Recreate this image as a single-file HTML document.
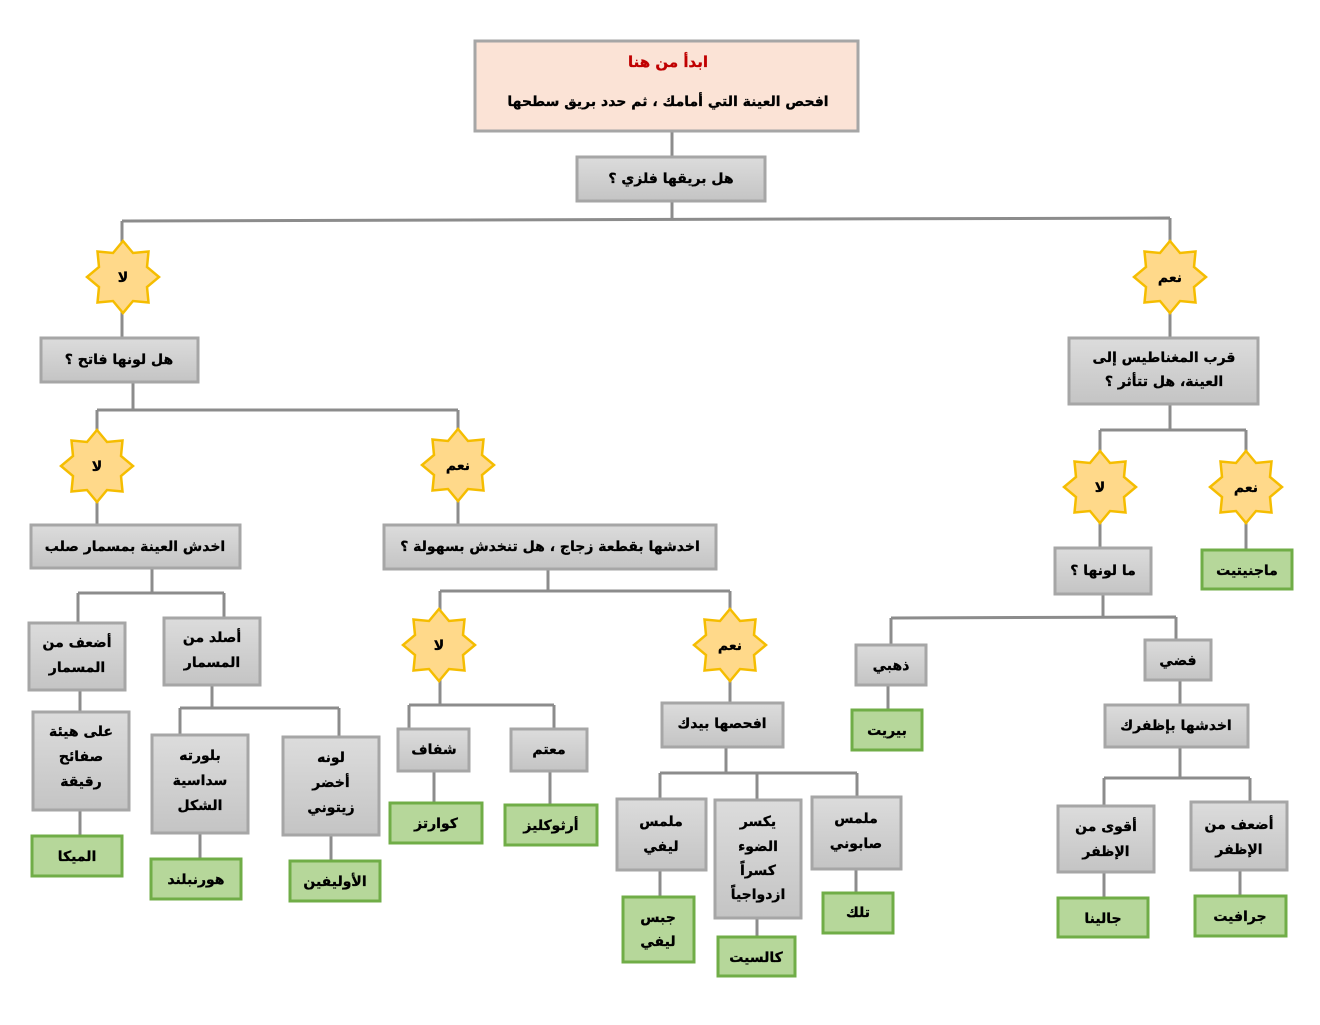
<!DOCTYPE html>
<html><head><meta charset="utf-8"><style>
html,body{margin:0;padding:0;background:#fff}
svg text{font-family:"DejaVu Sans","Liberation Sans",sans-serif;font-weight:bold;font-size:14px;fill:#000;text-anchor:middle;direction:rtl;stroke:#000;stroke-width:0.3}
.b{fill:url(#g);stroke:#a6a6a6;stroke-width:3}
.gr{fill:#b6d79a;stroke:#70ad47;stroke-width:3}
.l{stroke:#8c8c8c;stroke-width:3;fill:none}
.s{fill:#ffd98a;stroke:#f5bd00;stroke-width:2.5}
</style></head><body>
<svg width="1320" height="1020" xmlns="http://www.w3.org/2000/svg">
<defs>
<linearGradient id="g" x1="0" y1="0" x2="0" y2="1"><stop offset="0" stop-color="#dcdcdc"/><stop offset="1" stop-color="#c4c4c4"/></linearGradient>
<polygon id="st" points="0,-36 10,-24 25.5,-25.5 24,-10 36,0 24,10 25.5,25.5 10,24 0,36 -10,24 -25.5,25.5 -24,10 -36,0 -24,-10 -25.5,-25.5 -10,-24"/>
</defs>
<g class="l">
<path d="M672 131V157M672 201V220M122 221L1170 218M122 221V338M1170 218V338"/>
<path d="M133 382V410M97 410H458M97 410V525M458 410V525"/>
<path d="M152 568V593M78 593H224M78 593V623M224 593V618M80 690V712M80 810V836M212 685V708M180 708H339M180 708V735M339 708V737M200 833V859M331 835V861"/>
<path d="M548 569V591M440 591H730M440 591V705M730 591V703M409 705H554M409 705V729M554 705V729M434 771V803M550 771V805"/>
<path d="M726 747V773M660 773H857M660 773V799M757 773V800M857 773V797M660 870V897M757 918V937M856 869V893"/>
<path d="M1170 404V430M1100 430H1246M1100 430V548M1246 430V550M1103 594V618M891 618L1176 617M891 618V645M1176 617V640M888 685V710M1180 680V705M1180 747V778M1104 778H1250M1104 778V806M1250 778V802M1104 872V898M1240 870V896"/>
</g>
<rect x="475" y="41" width="383" height="90" fill="#fbe3d6" stroke="#a6a6a6" stroke-width="3"/>
<text x="668" y="67" style="fill:#c00000;stroke:#c00000;font-size:15px">ابدأ من هنا</text>
<text x="668" y="106">افحص العينة التي أمامك ، ثم حدد بريق سطحها</text>
<rect class="b" x="577" y="157" width="188" height="44"/><text x="671" y="183">هل بريقها فلزي ؟</text>
<g class="s">
<use href="#st" x="123" y="277"/><use href="#st" x="1170" y="277"/>
<use href="#st" x="97" y="466"/><use href="#st" x="458" y="465"/>
<use href="#st" x="439" y="645"/><use href="#st" x="730" y="645"/>
<use href="#st" x="1100" y="487"/><use href="#st" x="1246" y="487"/>
</g>
<text x="123" y="282">لا</text><text x="1170" y="282">نعم</text>
<text x="97" y="471">لا</text><text x="458" y="470">نعم</text>
<text x="439" y="650">لا</text><text x="730" y="650">نعم</text>
<text x="1100" y="492">لا</text><text x="1246" y="492">نعم</text>
<g>
<rect class="b" x="41" y="338" width="157" height="44"/><text x="119" y="364">هل لونها فاتح ؟</text>
<rect class="b" x="1069" y="338" width="189" height="66"/><text x="1164" y="362">قرب المغناطيس إلى</text><text x="1164" y="386">العينة، هل تتأثر ؟</text>
<rect class="b" x="31" y="525" width="209" height="43"/><text x="135" y="551">اخدش العينة بمسمار صلب</text>
<rect class="b" x="384" y="525" width="332" height="44"/><text x="550" y="551">اخدشها بقطعة زجاج ، هل تنخدش بسهولة ؟</text>
<rect class="b" x="29" y="623" width="96" height="67"/><text x="77" y="647">أضعف من</text><text x="77" y="672">المسمار</text>
<rect class="b" x="164" y="618" width="96" height="67"/><text x="212" y="642">أصلد من</text><text x="212" y="667">المسمار</text>
<rect class="b" x="33" y="712" width="96" height="98"/><text x="81" y="736">على هيئة</text><text x="81" y="761">صفائح</text><text x="81" y="786">رقيقة</text>
<rect class="b" x="152" y="735" width="96" height="98"/><text x="200" y="760">بلورته</text><text x="200" y="785">سداسية</text><text x="200" y="810">الشكل</text>
<rect class="b" x="283" y="737" width="96" height="98"/><text x="331" y="762">لونه</text><text x="331" y="787">أخضر</text><text x="331" y="812">زيتوني</text>
<rect class="b" x="398" y="729" width="71" height="42"/><text x="434" y="754">شفاف</text>
<rect class="b" x="511" y="729" width="76" height="42"/><text x="549" y="754">معتم</text>
<rect class="b" x="662" y="703" width="121" height="44"/><text x="722" y="728">افحصها بيدك</text>
<rect class="b" x="617" y="799" width="89" height="71"/><text x="661" y="826">ملمس</text><text x="661" y="851">ليفي</text>
<rect class="b" x="715" y="800" width="86" height="118"/><text x="758" y="826">يكسر</text><text x="758" y="851">الضوء</text><text x="758" y="875">كسراً</text><text x="758" y="899">ازدواجياً</text>
<rect class="b" x="812" y="797" width="89" height="72"/><text x="856" y="823">ملمس</text><text x="856" y="848">صابوني</text>
<rect class="b" x="1055" y="548" width="96" height="46"/><text x="1103" y="575">ما لونها ؟</text>
<rect class="b" x="856" y="645" width="70" height="40"/><text x="891" y="670">ذهبي</text>
<rect class="b" x="1145" y="640" width="66" height="40"/><text x="1178" y="665">فضي</text>
<rect class="b" x="1105" y="705" width="143" height="42"/><text x="1176" y="730">اخدشها بإظفرك</text>
<rect class="b" x="1058" y="806" width="96" height="66"/><text x="1106" y="831">أقوى من</text><text x="1106" y="856">الإظفر</text>
<rect class="b" x="1191" y="802" width="96" height="68"/><text x="1239" y="829">أضعف من</text><text x="1239" y="854">الإظفر</text>
</g>
<rect class="gr" x="32" y="836" width="90" height="40"/><text x="77" y="861">الميكا</text>
<rect class="gr" x="151" y="859" width="90" height="40"/><text x="196" y="884">هورنبلند</text>
<rect class="gr" x="290" y="861" width="90" height="40"/><text x="335" y="886">الأوليفين</text>
<rect class="gr" x="390" y="803" width="92" height="40"/><text x="436" y="828">كوارتز</text>
<rect class="gr" x="505" y="805" width="92" height="40"/><text x="551" y="830">أرثوكليز</text>
<rect class="gr" x="623" y="897" width="71" height="65"/><text x="658" y="922">جبس</text><text x="658" y="946">ليفي</text>
<rect class="gr" x="718" y="937" width="77" height="39"/><text x="756" y="962">كالسيت</text>
<rect class="gr" x="823" y="893" width="70" height="40"/><text x="858" y="917">تلك</text>
<rect class="gr" x="1202" y="550" width="90" height="39"/><text x="1247" y="575">ماجنيتيت</text>
<rect class="gr" x="852" y="710" width="70" height="40"/><text x="887" y="735">بيريت</text>
<rect class="gr" x="1058" y="898" width="90" height="39"/><text x="1103" y="923">جالينا</text>
<rect class="gr" x="1195" y="896" width="91" height="40"/><text x="1240" y="921">جرافيت</text>
</svg>
</body></html>
